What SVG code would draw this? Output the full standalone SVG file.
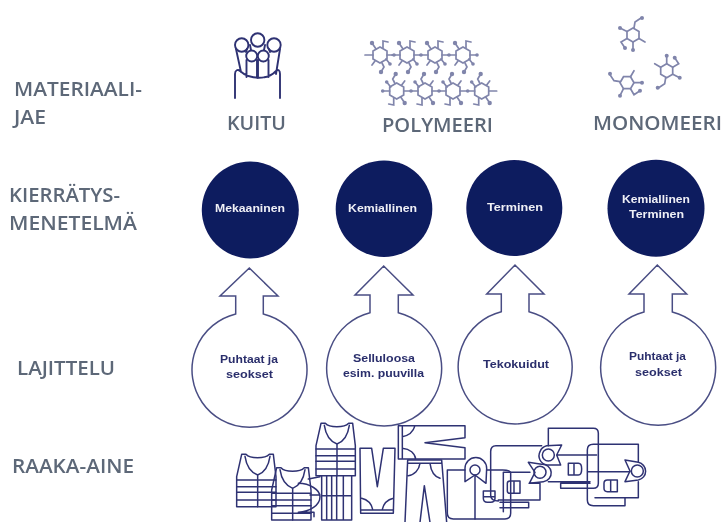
<svg xmlns="http://www.w3.org/2000/svg" xmlns:xlink="http://www.w3.org/1999/xlink" width="724" height="522" viewBox="0 0 724 522">
<style>
.lab{font-family:"Open Sans","Liberation Sans",sans-serif;font-size:20px;font-weight:600;fill:#5d6878}
.t{font-family:"Liberation Sans",Arial,sans-serif;font-size:10.500px;font-weight:700}
.w{fill:#eef0f6}
.d{fill:#2b2f6c}
.dark{fill:#0f1a5e}
.flow{fill:#fff;stroke:#4a4e84;stroke-width:1.5}
.g{fill:none;stroke:#2f3273;stroke-width:4.5;stroke-linejoin:round;stroke-linecap:round}
.m{fill:none;stroke:#8085ab;stroke-width:1.700;stroke-linecap:round}
.m circle{fill:#8085ab;stroke:none}
.k{fill:none;stroke:#2f3273;stroke-width:1.900;stroke-linecap:round}
</style>
<defs>
<filter id="soft" x="-2%" y="-2%" width="104%" height="104%"><feGaussianBlur stdDeviation="0.45"/></filter>
<filter id="softer" x="-5%" y="-5%" width="110%" height="110%"><feGaussianBlur stdDeviation="0.5"/></filter>
<g id="mono" class="m">
<path d="M0-7 6-3.500V3.500L0 7-6 3.500V-3.500Z"/>
<path d="M1-7 2-13 8-17M-6-3.500-13-7M-6 3.500-12 7-8 13M0 7V15M6 3.500 12 7"/>
<circle cx="9" cy="-17" r="2"/><circle cx="-13" cy="-7" r="2"/><circle cx="-8" cy="13" r="2"/><circle cx="0" cy="15" r="2"/>
</g>
<g id="poly" class="m">
<path d="M0-8 7-4V4L0 8-7 4V-4Z"/>
<path d="M-7 0H-15M7 0H14M-4-6-8-12M3-7 3-14 8-13M2 8 4 12 1 17M6 4 10 9M-5 6-8 10"/>
<circle cx="-8" cy="-12" r="2.200"/><circle cx="1" cy="17" r="2.200"/><circle cx="14" cy="0" r="1.800"/><circle cx="10" cy="9" r="1.800"/>
</g>
<g id="vest" class="g">
<path d="M15 0 H28 C40 14 85 14 98 0 H110 L118 67 V157 H0 V67Z"/>
<path d="M25 6 C30 40 45 55 63 62 C82 55 95 40 100 6M63 62V157M0 77H118M0 97H118M0 114H118M0 137H118"/>
</g>
</defs>
<g filter="url(#soft)">
<g id="labels">
<text class="lab" x="14" y="96" textLength="128" lengthAdjust="spacingAndGlyphs">MATERIAALI-</text>
<text class="lab" x="14" y="124" textLength="32" lengthAdjust="spacingAndGlyphs">JAE</text>
<text class="lab" x="9" y="202" textLength="111" lengthAdjust="spacingAndGlyphs">KIERRÄTYS-</text>
<text class="lab" x="9" y="230" textLength="128" lengthAdjust="spacingAndGlyphs">MENETELMÄ</text>
<text class="lab" x="17" y="375" textLength="98" lengthAdjust="spacingAndGlyphs">LAJITTELU</text>
<text class="lab" x="12" y="473" textLength="122" lengthAdjust="spacingAndGlyphs">RAAKA-AINE</text>
<text class="lab" x="227" y="130" textLength="59" lengthAdjust="spacingAndGlyphs">KUITU</text>
<text class="lab" x="382" y="132" textLength="111" lengthAdjust="spacingAndGlyphs">POLYMEERI</text>
<text class="lab" x="593" y="130" textLength="129" lengthAdjust="spacingAndGlyphs">MONOMEERI</text>
</g>
<g id="kuitu" class="k">
<circle cx="241.700" cy="45" r="6.700"/><circle cx="257.700" cy="40" r="6.700"/><circle cx="274" cy="45" r="6.700"/><circle cx="251.700" cy="56" r="5.500"/><circle cx="263.300" cy="56" r="5.500"/>
<path d="M236 49 241 72M247 49 246 52M250 45 251 50M265 45 264 50M269 49 270 52M280 49 276 74M246.500 60V77M257 60V78M258 60V78M268.500 60V77M235 98V74C235 70 238 69 240 71C250 80 268 80 276 71 278 69 280 70 280 74V98"/>
</g>
<g id="polymeeri">
<use xlink:href="#poly" href="#poly" x="380" y="55"/><use xlink:href="#poly" href="#poly" x="407" y="55"/><use xlink:href="#poly" href="#poly" x="435" y="55"/><use xlink:href="#poly" href="#poly" x="463" y="55"/>
<use xlink:href="#poly" href="#poly" transform="translate(396.700 91) rotate(180)"/><use xlink:href="#poly" href="#poly" transform="translate(425 91) rotate(180)"/><use xlink:href="#poly" href="#poly" transform="translate(453 91) rotate(180)"/><use xlink:href="#poly" href="#poly" transform="translate(481.700 91) rotate(180)"/>
</g>
<g id="monomeeri">
<use xlink:href="#mono" href="#mono" transform="translate(633 35)"/>
<use xlink:href="#mono" href="#mono" transform="translate(666.700 70.700) rotate(180)"/>
<use xlink:href="#mono" href="#mono" transform="translate(627 82.700) rotate(-90)"/>
</g>
<g id="method-1"><circle class="dark" cx="250.300" cy="210" r="48.500"/><text class="t w" x="215" y="212" textLength="70" lengthAdjust="spacingAndGlyphs">Mekaaninen</text></g>
<g id="method-2"><circle class="dark" cx="384" cy="208.700" r="48.300"/><text class="t w" x="348" y="212" textLength="69" lengthAdjust="spacingAndGlyphs">Kemiallinen</text></g>
<g id="method-3"><circle class="dark" cx="514.300" cy="208" r="48"/><text class="t w" x="487" y="211" textLength="56" lengthAdjust="spacingAndGlyphs">Terminen</text></g>
<g id="method-4"><circle class="dark" cx="656" cy="208.300" r="48.500"/><text class="t w" x="622" y="203" textLength="68" lengthAdjust="spacingAndGlyphs">Kemiallinen</text><text class="t w" x="629" y="218" textLength="55" lengthAdjust="spacingAndGlyphs">Terminen</text></g>
<g id="connectors">
<path class="flow" d="M235.700 314V296H220L249.300 268 278 296H263.300V314A57.500 57.500 0 1 1 235.700 314Z"/>
<path class="flow" d="M370 312.700V295H355L383.700 266 413 295H398.300V312.700A57.500 57.500 0 1 1 370 312.700Z"/>
<path class="flow" d="M501.300 311.700V294H486.700L515 265 544 294H529V311.700A57 57 0 1 1 501.300 311.700Z"/>
<path class="flow" d="M644 312V294H629L657.300 265 686.700 294H672.300V312A57.500 57.500 0 1 1 644 312Z"/>
</g>
<g id="sort-1"><text class="t d" x="220" y="363" textLength="58" lengthAdjust="spacingAndGlyphs">Puhtaat ja</text><text class="t d" x="226" y="378" textLength="47" lengthAdjust="spacingAndGlyphs">seokset</text></g>
<g id="sort-2"><text class="t d" x="353" y="362" textLength="62" lengthAdjust="spacingAndGlyphs">Selluloosa</text><text class="t d" x="343" y="377" textLength="81" lengthAdjust="spacingAndGlyphs">esim. puuvilla</text></g>
<g id="sort-3"><text class="t d" x="483" y="368" textLength="66" lengthAdjust="spacingAndGlyphs">Tekokuidut</text></g>
<g id="sort-4"><text class="t d" x="629" y="360" textLength="57" lengthAdjust="spacingAndGlyphs">Puhtaat ja</text><text class="t d" x="635" y="376" textLength="47" lengthAdjust="spacingAndGlyphs">seokset</text></g>
<g id="raaka-aine-vaatteet" transform="translate(220 415) scale(.33333)">
<use xlink:href="#vest" href="#vest" x="50" y="118"/>
<use xlink:href="#vest" href="#vest" x="155" y="158"/>
<use xlink:href="#vest" href="#vest" x="288" y="25"/>
<g class="g">
<path d="M235 205C270 205 300 225 300 245 300 270 270 290 235 292M235 292H282V305M265 192 300 185M270 240H300"/>
<path d="M305 182V315H395V182M320 182V315M335 182V315M350 182V315M370 182V315M305 242H395"/>
<path d="M420 100H455L472 215 490 100H525L520 295H422ZM425 250C445 255 455 270 458 283M520 250C500 255 490 270 487 283M422 285H520"/>
</g>
</g>
<g id="raaka-aine-housut" class="g" transform="translate(385 415) scale(.33333)">
<path d="M40 32H240V68L120 83 240 98V132H40ZM52 32V132M52 65C70 62 85 50 90 32M52 100C75 102 90 115 92 132"/>
<path d="M68 135H170L185 322M68 135 60 322M105 322 118 212 135 322M68 145H168M70 182C88 180 102 165 105 145M165 190C150 185 138 170 135 145"/>
</g>
<g id="raaka-aine-paidat" transform="translate(430 415) scale(.33333)">
<g class="g">
<path d="M105 165H52V295Q52 312 70 312H225Q242 312 242 295V175Q242 165 218 165H170"/>
<path d="M135 185V312M105 200V160A32 32 0 0 1 170 160L168 205 135 180 105 200Z"/>
<circle cx="135" cy="165" r="15"/>
<path d="M160 228H195V250Q195 262 182 262H172Q160 262 160 250ZM160 245H195"/>
<path d="M182 180V110Q182 92 198 92H335M182 180V240Q182 258 205 258M220 172H300M220 172V290M205 255H330V205H298M210 262H296V278H210"/>
<path d="M232 205Q232 198 240 198H270V235H240Q232 235 232 228ZM252 198V235"/>
<circle cx="330" cy="172" r="18"/>
<path d="M295 142 335 148A26 26 0 0 1 340 200L298 205 315 172Z"/>
<path d="M355 92V40H490Q505 40 505 55V205Q505 220 490 220H392V205H480M355 200H480"/>
<circle cx="355" cy="120" r="18"/>
<path d="M330 110A28 28 0 0 1 350 92L395 90 380 120 392 150 350 150A28 28 0 0 1 330 110ZM380 120H500"/>
<path d="M415 145H445Q455 145 455 162 455 180 445 180H415ZM432 145V180"/>
<path d="M472 105Q472 88 490 88H625V140M472 105V255Q472 272 490 272H585V248H495M472 170H600M625 200V248H585"/>
<path d="M522 205Q522 195 532 195H562V230H532Q522 230 522 220ZM542 195V230"/>
<circle cx="622" cy="168" r="18"/>
<path d="M585 135 625 142A27 27 0 0 1 625 195L585 200 600 168Z"/>
</g>
</g>
</g>
</svg>
